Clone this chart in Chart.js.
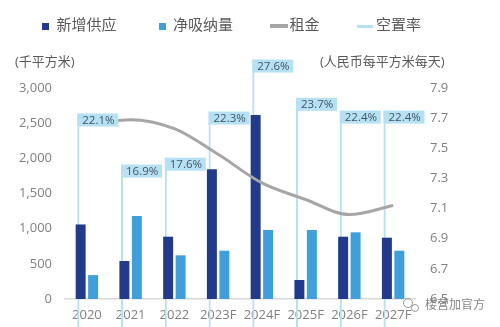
<!DOCTYPE html>
<html>
<head>
<meta charset="utf-8">
<script src="https://cdn.jsdelivr.net/npm/chart.js@4.4.1/dist/chart.umd.min.js"></script>
<style>
  html, body { margin: 0; padding: 0; background: #fff; }
  #wrap { width: 500px; height: 327px; position: relative; }
</style>
</head>
<body>
<div id="wrap"><canvas id="office-chart"></canvas></div>
<script>
// data
const years = ["2020", "2021", "2022", "2023F", "2024F", "2025F", "2026F", "2027F"];
const newSupply = [1060, 540, 886, 1844, 2616, 270, 886, 872];      // 千平方米
const netAbsorption = [340, 1180, 621, 687, 981, 981, 948, 687];    // 千平方米
const rent = [7.66, 7.69, 7.63, 7.46, 7.27, 7.16, 7.06, 7.12];       // 人民币每平方米每天
const vacancy = [22.1, 16.9, 17.6, 22.3, 27.6, 23.7, 22.4, 22.4];    // %

const FONT = "'Open Sans', 'Noto Sans CJK SC', sans-serif";
const DARK = "#213a8c";
const LIGHT = "#3d9fdc";
const GREY = "#a6a6a6";
const PALE = "#b5e1f2";

// legend markers
function marker(w, h, color) {
  const c = document.createElement("canvas");
  c.width = w;
  c.height = h;
  const g = c.getContext("2d");
  g.fillStyle = color;
  g.fillRect(0, 0, w, h);
  return c;
}
const markers = [marker(7, 7, DARK), marker(7, 7, LIGHT), marker(18, 4, GREY), marker(16, 3, PALE)];

// % boxes on top of the vacancy flags
const vacancyLabels = {
  id: "vacancyLabels",
  afterDatasetsDraw(chart) {
    const meta = chart.getDatasetMeta(3);
    const ctx = chart.ctx;
    ctx.save();
    ctx.font = "11.5px " + FONT;
    ctx.textBaseline = "middle";
    meta.data.forEach((bar, i) => {
      const left = bar.x - bar.width / 2;
      ctx.fillStyle = PALE;
      ctx.fillRect(left, bar.y, 41, 13);
      ctx.fillStyle = "#44546a";
      ctx.fillText(vacancy[i].toFixed(1) + "%", left + 5, bar.y + 7);
    });
    ctx.restore();
  }
};

// unit captions and the watermark
const captions = {
  id: "captions",
  afterDraw(chart) {
    const ctx = chart.ctx;
    ctx.save();
    ctx.font = "13px " + FONT;
    ctx.fillStyle = "#595959";
    ctx.textBaseline = "middle";
    ctx.fillText("(千平方米)", 15, 62);
    ctx.fillText("(人民币每平方米每天)", 320, 62);
    ctx.font = "12px " + FONT;
    ctx.fillStyle = "rgba(120,120,120,0.9)";
    ctx.fillText("楼营加官方", 425, 306);
    ctx.strokeStyle = "rgba(140,140,140,0.9)";
    ctx.lineWidth = 1;
    ctx.beginPath();
    ctx.arc(408, 303, 4.5, 0, Math.PI * 2);
    ctx.stroke();
    ctx.beginPath();
    ctx.arc(415, 308, 3.5, 0, Math.PI * 2);
    ctx.stroke();
    ctx.restore();
  }
};

const ctx = document.getElementById("office-chart");
const chart = new Chart(ctx, {
  type: "bar",
  data: {
    labels: years,
    datasets: [
      {
        label: "新增供应",
        data: newSupply,
        backgroundColor: DARK,
        yAxisID: "y",
        order: 1,
        categoryPercentage: 0.57,
        barPercentage: 0.8
      },
      {
        label: "净吸纳量",
        data: netAbsorption,
        backgroundColor: LIGHT,
        yAxisID: "y",
        order: 1,
        categoryPercentage: 0.57,
        barPercentage: 0.8
      },
      {
        type: "line",
        label: "租金",
        data: rent,
        borderColor: GREY,
        borderWidth: 3,
        pointRadius: 0,
        tension: 0.4,
        cubicInterpolationMode: "monotone",
        yAxisID: "y2",
        order: 0
      },
      {
        label: "空置率",
        data: vacancy,
        backgroundColor: "rgba(0,0,0,0)",
        borderColor: PALE,
        borderWidth: { left: 2, right: 0, top: 0, bottom: 0 },
        borderSkipped: false,
        grouped: false,
        barPercentage: 0.55,
        yAxisID: "yv",
        clip: false,
        order: 2
      }
    ]
  },
  options: {
    responsive: true,
    maintainAspectRatio: false,
    animation: false,
    locale: "en-US",
    layout: { padding: { top: -23.5, left: 0, right: 0, bottom: 0 } },
    plugins: {
      tooltip: { enabled: false },
      // blank spacer under the legend, keeps room for the unit captions
      title: {
        display: true,
        text: " ",
        weight: 500,
        font: { size: 10 },
        padding: { top: 0, bottom: 32.5 }
      },
      legend: {
        position: "top",
        align: "start",
        labels: {
          usePointStyle: true,
          pointStyleWidth: 7,
          padding: 42,
          color: "#595959",
          font: { family: FONT, size: 15 },
          sort: (a, b) => a.datasetIndex - b.datasetIndex,
          generateLabels(chart) {
            const items = Chart.defaults.plugins.legend.labels.generateLabels(chart);
            items.forEach(it => { it.pointStyle = markers[it.datasetIndex]; });
            return items;
          }
        }
      }
    },
    scales: {
      x: {
        grid: { display: false, drawTicks: false },
        border: { display: true, color: "#d9d9d9", width: 1.5 },
        ticks: { color: "#808080", font: { family: FONT, size: 13 }, padding: 8 },
        afterFit(scale) { scale.height = 28; }
      },
      y: {
        position: "left",
        min: 0,
        max: 3000,
        grid: { display: false, drawTicks: false },
        border: { display: false },
        ticks: { stepSize: 500, color: "#808080", font: { family: FONT, size: 13 }, padding: 13 },
        afterFit(scale) { scale.width = 65; }
      },
      y2: {
        position: "right",
        min: 6.5,
        max: 7.9,
        grid: { display: false, drawTicks: false },
        border: { display: false },
        ticks: {
          stepSize: 0.2,
          color: "#808080",
          font: { family: FONT, size: 13 },
          padding: 15,
          callback: v => Number(v).toFixed(1)
        },
        afterFit(scale) { scale.width = 85; }
      },
      yv: {
        display: false,
        min: 3.2,
        max: 24.7
      }
    }
  },
  plugins: [vacancyLabels, captions]
});
</script>
</body>
</html>
